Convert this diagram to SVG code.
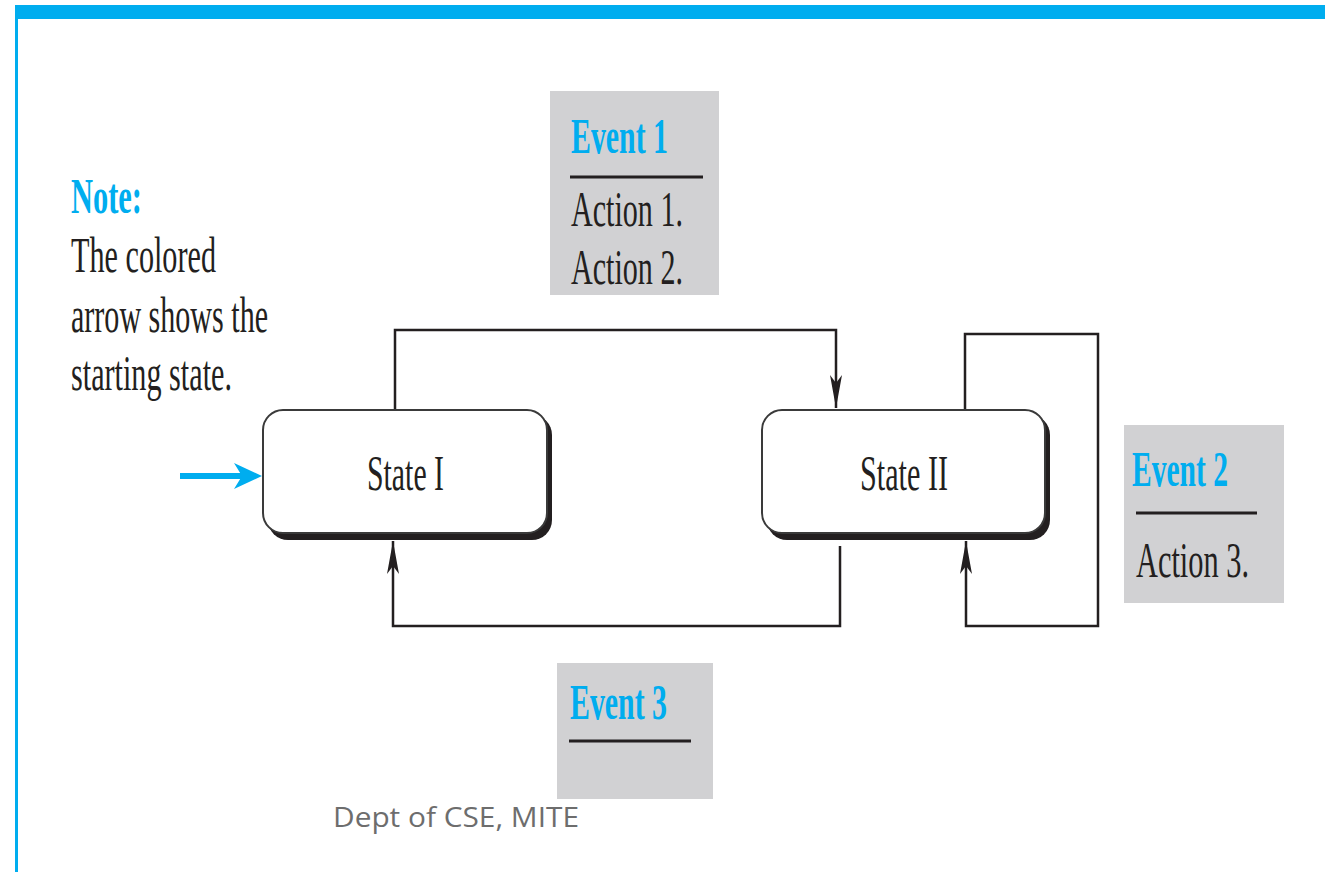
<svg xmlns="http://www.w3.org/2000/svg" width="1325" height="872" viewBox="0 0 1325 872">
  <style>
    .frame { fill: #00adef; }
    .panel { fill: #d1d1d3; }
    .rule { stroke: #231f20; stroke-width: 3; }
    .wire { fill: none; stroke: #231f20; stroke-width: 2.5; }
    .start { fill: none; stroke: #00adef; stroke-width: 6; }
    .serif { font-family: "Liberation Serif", "Times New Roman", serif; font-size: 50px; fill: #231f20; }
    .ev { font-weight: bold; fill: #00adef; }
    .box { fill: #ffffff; stroke: #3a3a3a; stroke-width: 2; }
    .shadow { fill: #231f20; }
    .foot { font-family: "Open Sans", "Noto Sans", sans-serif; font-size: 27px; fill: #6d6d6d; }
  </style>
  <defs>
    <marker id="arr" viewBox="-34 -7 35 14" refX="0" refY="0" markerWidth="35" markerHeight="14" markerUnits="userSpaceOnUse" orient="auto">
      <path d="M0,0 L-33,-6 L-25,0 L-33,6 Z" fill="#231f20"/>
    </marker>
    <marker id="arrBlue" viewBox="-28 -14 29 28" refX="-12" refY="0" markerWidth="29" markerHeight="28" markerUnits="userSpaceOnUse" orient="auto">
      <path d="M0,0 L-28,-13 L-20,0 L-28,13 Z" fill="#00adef"/>
    </marker>
  </defs>

  <!-- slide frame -->
  <rect class="frame" x="15" y="5" width="1310" height="14"/>
  <rect class="frame" x="15" y="5" width="3" height="867"/>

  <!-- connectors -->
  <g id="connectors">
    <path class="wire" d="M395,410 V330 H836 V408" marker-end="url(#arr)"/>
    <path class="wire" d="M840,546 V626 H393 V541" marker-end="url(#arr)"/>
    <path class="wire" d="M965,410 V334 H1098 V626 H966 V541" marker-end="url(#arr)"/>
    <path class="start" d="M180,476 H250" marker-end="url(#arrBlue)"/>
  </g>

  <!-- note -->
  <g id="note">
    <text class="serif ev" x="71" y="213" textLength="71" lengthAdjust="spacingAndGlyphs">Note:</text>
    <text class="serif" x="71" y="272" textLength="145" lengthAdjust="spacingAndGlyphs">The colored</text>
    <text class="serif" x="71" y="332" textLength="197" lengthAdjust="spacingAndGlyphs">arrow shows the</text>
    <text class="serif" x="71" y="390" textLength="161" lengthAdjust="spacingAndGlyphs">starting state.</text>
  </g>

  <!-- state I -->
  <g id="state1">
    <rect class="shadow" x="268" y="415" width="284" height="125" rx="20"/>
    <rect class="box" x="263" y="410" width="284" height="123" rx="20"/>
    <text class="serif" x="367" y="490" textLength="77" lengthAdjust="spacingAndGlyphs">State I</text>
  </g>

  <!-- state II -->
  <g id="state2">
    <rect class="shadow" x="767" y="415" width="283" height="125" rx="20"/>
    <rect class="box" x="762" y="410" width="283" height="123" rx="20"/>
    <text class="serif" x="860" y="490" textLength="88" lengthAdjust="spacingAndGlyphs">State II</text>
  </g>

  <!-- event 1 label -->
  <g id="event1">
    <rect class="panel" x="550" y="91" width="169" height="204"/>
    <text class="serif ev" x="571" y="153" textLength="97" lengthAdjust="spacingAndGlyphs">Event 1</text>
    <line class="rule" x1="570" y1="177" x2="703" y2="177"/>
    <text class="serif" x="571" y="226" textLength="112" lengthAdjust="spacingAndGlyphs">Action 1.</text>
    <text class="serif" x="571" y="284" textLength="112" lengthAdjust="spacingAndGlyphs">Action 2.</text>
  </g>

  <!-- event 2 label -->
  <g id="event2">
    <rect class="panel" x="1124" y="425" width="160" height="178"/>
    <text class="serif ev" x="1132" y="486" textLength="96" lengthAdjust="spacingAndGlyphs">Event 2</text>
    <line class="rule" x1="1136" y1="513" x2="1257" y2="513"/>
    <text class="serif" x="1136" y="577" textLength="113" lengthAdjust="spacingAndGlyphs">Action 3.</text>
  </g>

  <!-- event 3 label -->
  <g id="event3">
    <rect class="panel" x="557" y="663" width="156" height="136"/>
    <text class="serif ev" x="570" y="719" textLength="97" lengthAdjust="spacingAndGlyphs">Event 3</text>
    <line class="rule" x1="569" y1="741" x2="691" y2="741"/>
  </g>

  <!-- footer -->
  <text class="foot" x="333" y="827" textLength="246" lengthAdjust="spacingAndGlyphs">Dept of CSE, MITE</text>
</svg>
